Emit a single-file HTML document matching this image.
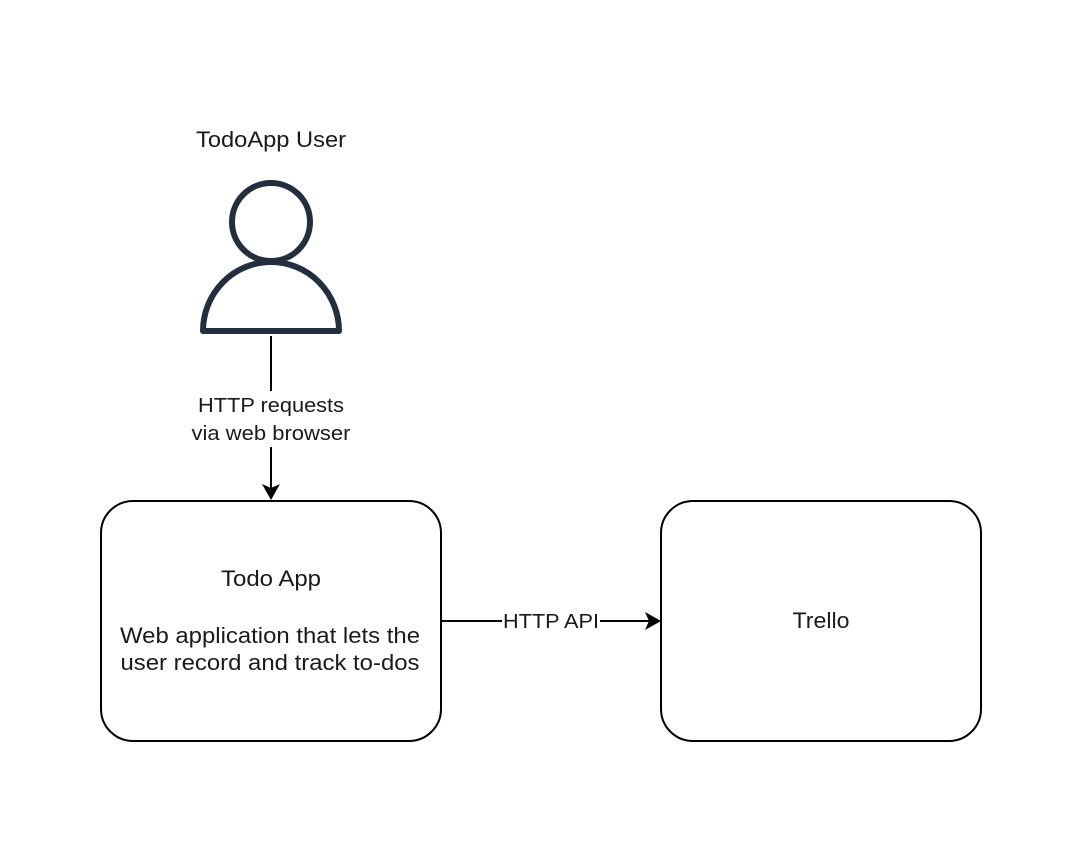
<!DOCTYPE html>
<html><head><style>
body{margin:0;background:#fff;}
svg text{font-family:"Liberation Sans",Arial,sans-serif;fill:#1a1a1a;}
</style></head><body>
<svg width="1082" height="842" viewBox="0 0 1082 842" xmlns="http://www.w3.org/2000/svg">
<rect width="1082" height="842" fill="#fff"/>
<text x="271" y="147" font-size="22" text-anchor="middle" textLength="150" lengthAdjust="spacingAndGlyphs">TodoApp User</text>
<circle cx="271" cy="222" r="39" fill="none" stroke="#232f3e" stroke-width="6"/>
<path d="M203 331 A68 69 0 0 1 339 331 Z" fill="none" stroke="#232f3e" stroke-width="6" stroke-linejoin="round"/>
<line x1="271" y1="336" x2="271" y2="391" stroke="#000" stroke-width="2"/>
<text x="271" y="412" font-size="20" text-anchor="middle" textLength="146" lengthAdjust="spacingAndGlyphs">HTTP requests</text>
<text x="271" y="440" font-size="20" text-anchor="middle" textLength="159" lengthAdjust="spacingAndGlyphs">via web browser</text>
<line x1="271" y1="447" x2="271" y2="490" stroke="#000" stroke-width="2"/>
<path d="M262 484 L271 500 L280 484 L271 488 Z" fill="#000"/>
<rect x="101" y="501" width="340" height="240" rx="32" fill="#fff" stroke="#000" stroke-width="2"/>
<text x="271" y="586" font-size="22" text-anchor="middle" textLength="100" lengthAdjust="spacingAndGlyphs">Todo App</text>
<text x="270" y="643" font-size="22" text-anchor="middle" textLength="300" lengthAdjust="spacingAndGlyphs">Web application that lets the</text>
<text x="270" y="670" font-size="22" text-anchor="middle" textLength="299" lengthAdjust="spacingAndGlyphs">user record and track to-dos</text>
<rect x="661" y="501" width="320" height="240" rx="32" fill="#fff" stroke="#000" stroke-width="2"/>
<text x="821" y="628" font-size="22" text-anchor="middle" textLength="57" lengthAdjust="spacingAndGlyphs">Trello</text>
<line x1="441" y1="621" x2="502" y2="621" stroke="#000" stroke-width="2"/>
<line x1="600" y1="621" x2="652" y2="621" stroke="#000" stroke-width="2"/>
<path d="M645 612 L661 621 L645 630 L649 621 Z" fill="#000"/>
<text x="551" y="628" font-size="20" text-anchor="middle" textLength="96" lengthAdjust="spacingAndGlyphs">HTTP API</text>
</svg>
</body></html>
